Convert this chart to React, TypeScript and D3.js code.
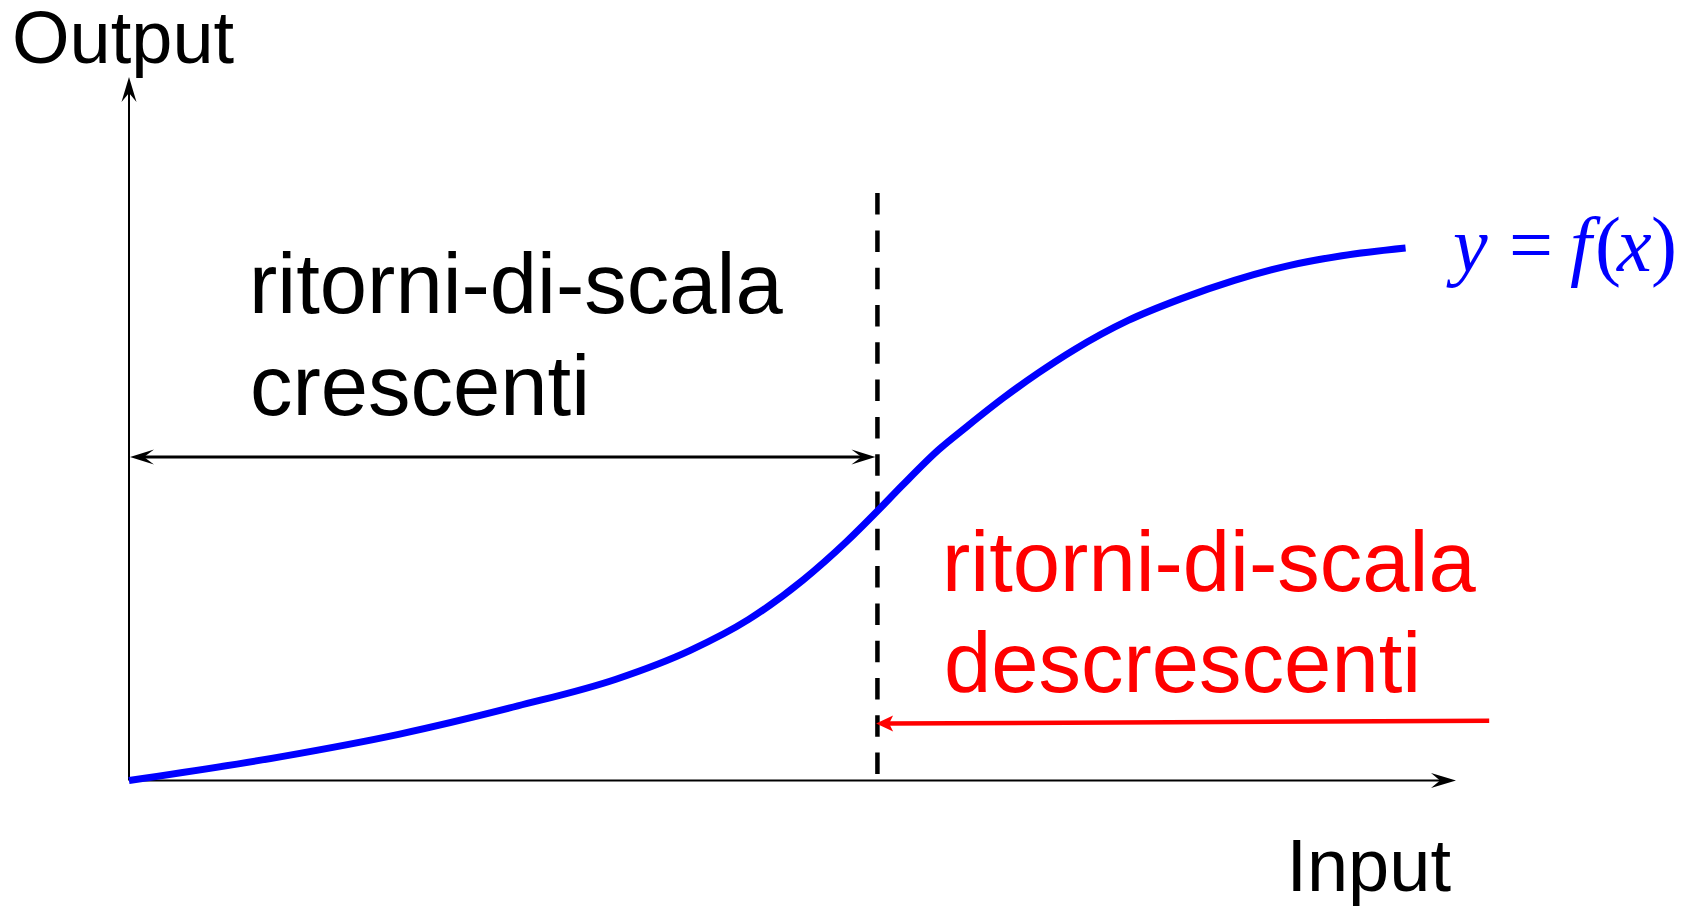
import React from "react";
import * as d3 from "d3";

// Curve y = f(x) (input, output) in axis units
const curveInput = [0, 1.15, 2.04, 2.93, 3.67, 4.23, 4.67, 5.08, 5.41, 5.64, 5.83, 6.1, 6.32, 6.59, 6.85, 7.12, 7.53, 7.93, 8.33, 8.74, 9.14, 9.62];
const curveOutput = [0, 0.34, 0.66, 1.06, 1.44, 1.85, 2.29, 2.85, 3.4, 3.83, 4.2, 4.7, 5.04, 5.44, 5.79, 6.12, 6.54, 6.85, 7.11, 7.32, 7.46, 7.57];

// Annotations
const thresholdInput = 5.64;
const thresholdTop = 8.35;
const increasingArrowOutput = 4.6;
const decreasingArrowStart = [10.25, 0.85];
const decreasingArrowEnd = [5.63, 0.81];

const axisLabels = ["Input", "Output"];
const increasingLabel = ["ritorni-di-scala", "crescenti"];
const decreasingLabel = ["ritorni-di-scala", "descrescenti"];

const W = 1691;
const H = 906;

export default function App() {
  const x = d3.scaleLinear().domain([0, 10]).range([129, 1456]);
  const y = d3.scaleLinear().domain([0, 10]).range([780.5, 77]);

  const pts = curveInput.map((v, i) => [x(v), y(curveOutput[i])] as [number, number]);
  const line = d3.line().curve(d3.curveMonotoneX)(pts) || "";

  // concave arrowhead path pointing in direction (dx,dy) with tip at (tx,ty)
  const head = (tx: number, ty: number, dx: number, dy: number, len: number, hw: number, notch: number) => {
    const n = Math.hypot(dx, dy);
    const ux = dx / n, uy = dy / n;
    const px = -uy, py = ux;
    const bx = tx - ux * len, by = ty - uy * len;
    const nx = tx - ux * notch, ny = ty - uy * notch;
    return `M${tx},${ty} L${bx + px * hw},${by + py * hw} L${nx},${ny} L${bx - px * hw},${by - py * hw} Z`;
  };

  const x0 = x(0), y0 = y(0);
  const xEnd = x(10), yEnd = y(10);
  const ya = y(increasingArrowOutput);
  const xt = x(thresholdInput);
  const rs = [x(decreasingArrowStart[0]), y(decreasingArrowStart[1])];
  const re = [x(decreasingArrowEnd[0]), y(decreasingArrowEnd[1])];

  const sans = "'Liberation Sans', Arial, sans-serif";
  const serif = "'Liberation Serif', 'Times New Roman', serif";

  return (
    <svg width={W} height={H} style={{ position: "absolute", left: 0, top: 0, background: "#fff" }}>
      {/* axes */}
      <line x1={x0} y1={y0} x2={xEnd - 12} y2={y0} stroke="#000" strokeWidth={2} />
      <path d={head(xEnd, y0, 1, 0, 25, 7.5, 16)} fill="#000" />
      <line x1={x0} y1={y0} x2={x0} y2={yEnd + 12} stroke="#000" strokeWidth={2} />
      <path d={head(x0, yEnd, 0, -1, 25, 7.5, 16)} fill="#000" />

      {/* threshold dashed line */}
      <line x1={xt} y1={y(thresholdTop)} x2={xt} y2={y0} stroke="#000" strokeWidth={4.5} strokeDasharray="21.5,15.8" />

      {/* increasing returns double arrow */}
      <line x1={x0 + 12} y1={ya} x2={xt - 14} y2={ya} stroke="#000" strokeWidth={3} />
      <path d={head(x0 + 1, ya, -1, 0, 24, 7.5, 14)} fill="#000" />
      <path d={head(xt - 2, ya, 1, 0, 24, 7.5, 14)} fill="#000" />

      {/* decreasing returns red arrow */}
      <line x1={rs[0]} y1={rs[1]} x2={re[0] + 12} y2={re[1]} stroke="#ff0000" strokeWidth={4.5} />
      <path d={head(re[0], re[1], re[0] - rs[0], re[1] - rs[1], 17, 8, 13)} fill="#ff0000" />

      {/* curve */}
      <path d={line} fill="none" stroke="#0000ff" strokeWidth={7} strokeLinecap="butt" />

      {/* labels */}
      <text x={12} y={63} fontFamily={sans} fontSize={74} fill="#000">{axisLabels[1]}</text>
      <text x={1451} y={891} fontFamily={sans} fontSize={74} fill="#000" textAnchor="end">{axisLabels[0]}</text>

      <text x={249} y={313} fontFamily={sans} fontSize={85} fill="#000">{increasingLabel[0]}</text>
      <text x={250} y={415} fontFamily={sans} fontSize={85} fill="#000">{increasingLabel[1]}</text>

      <text x={942} y={591} fontFamily={sans} fontSize={85} fill="#ff0000">{decreasingLabel[0]}</text>
      <text x={944} y={692} fontFamily={sans} fontSize={85} fill="#ff0000">{decreasingLabel[1]}</text>

      <text y={271} fontFamily={serif} fontSize={78} fill="#0000ff">
        <tspan x={1453} fontStyle="italic">y</tspan>
        <tspan x={1509}>=</tspan>
        <tspan x={1570} fontStyle="italic">f</tspan>
        <tspan x={1595}>(</tspan>
        <tspan x={1617} fontStyle="italic">x</tspan>
        <tspan x={1651}>)</tspan>
      </text>
    </svg>
  );
}
